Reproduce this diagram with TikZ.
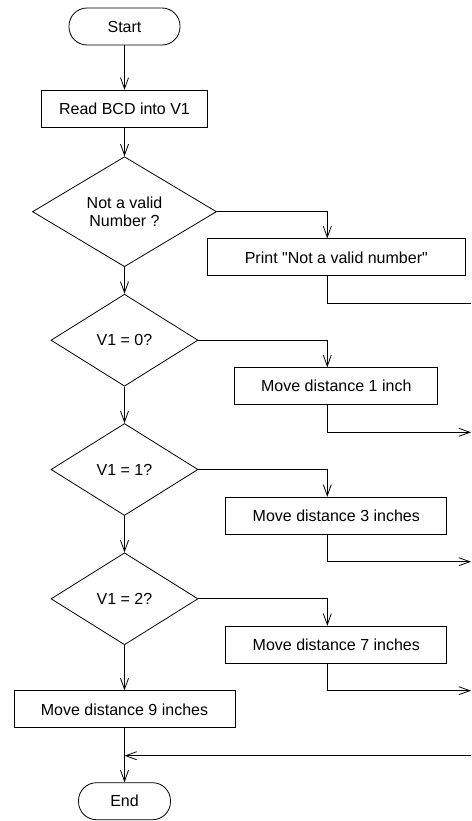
\documentclass[tikz,border=0pt]{standalone}
\usepackage{fontspec}
\setmainfont{Liberation Sans}
\usetikzlibrary{shapes.geometric,arrows.meta}

\begin{document}
\begin{tikzpicture}[x=1pt,y=-1pt,line width=0.8pt,
	font=\fontsize{16pt}{18.3pt}\selectfont,
	>={Straight Barb[length=11pt,width=8pt]},
	terminal/.style={draw,rectangle,rounded corners=18pt,minimum height=37pt,inner sep=0pt},
	process/.style={draw,rectangle,minimum height=37pt,inner sep=0pt},
	decision/.style={draw,diamond,aspect=1.6,inner sep=0pt,align=center,minimum width=147pt,minimum height=92pt}]
	\useasboundingbox (0,0) rectangle (471,821);
	% main column
	\node[terminal,minimum width=111pt] (start) at (124.5,26.5) {Start};
	\node[process,minimum width=166pt] (read) at (124.5,108.8) {Read BCD into V1};
	\node[decision,minimum width=184pt,minimum height=110pt] (valid) at (124.5,211.7) {Not a valid\\Number ?};
	\node[decision] (zero) at (124.5,340.2) {V1 = 0?};
	\node[decision] (one) at (124.5,469.5) {V1 = 1?};
	\node[decision] (two) at (124.5,598.8) {V1 = 2?};
	\node[process,minimum width=221pt] (nine) at (124.5,709.3) {Move distance 9 inches};
	\node[terminal,minimum width=92pt] (end) at (124.5,801.2) {End};
	% branches on the right
	\node[process,minimum width=258pt] (print) at (336.3,257.3) {Print \textquotedbl Not a valid number\textquotedbl};
	\node[process,minimum width=203pt] (mvone) at (336.3,386.2) {Move distance 1 inch};
	\node[process,minimum width=221pt] (mvthree) at (336.3,515.7) {Move distance 3 inches};
	\node[process,minimum width=221pt] (mvseven) at (336.3,644.7) {Move distance 7 inches};
	% off-page ends of the branches
	\coordinate (outp) at (471,303.3);
	\coordinate (outa) at (471,432.3);
	\coordinate (outb) at (471,561.7);
	\coordinate (outc) at (471,690.7);
	\coordinate (back) at (471,755.7);

	\draw[->] (start) -- (read);
	\draw[->] (read) -- (valid);
	\draw[->] (valid) -- (zero);
	\draw[->] (zero) -- (one);
	\draw[->] (one) -- (two);
	\draw[->] (two) -- (nine);
	\draw[->] (nine) -- (end);

	\draw[->] (valid.east) -| ([xshift=-9pt]print.north);
	\draw[->] (zero.east) -| ([xshift=-9pt]mvone.north);
	\draw[->] (one.east) -| ([xshift=-9pt]mvthree.north);
	\draw[->] (two.east) -| ([xshift=-9pt]mvseven.north);

	\draw ([xshift=-9pt]print.south) |- (outp);
	\draw[->] ([xshift=-9pt]mvone.south) |- (outa);
	\draw[->] ([xshift=-9pt]mvthree.south) |- (outb);
	\draw[->] ([xshift=-9pt]mvseven.south) |- (outc);
	\draw[->] (back) -- (back -| end.north);
\end{tikzpicture}
\end{document}
